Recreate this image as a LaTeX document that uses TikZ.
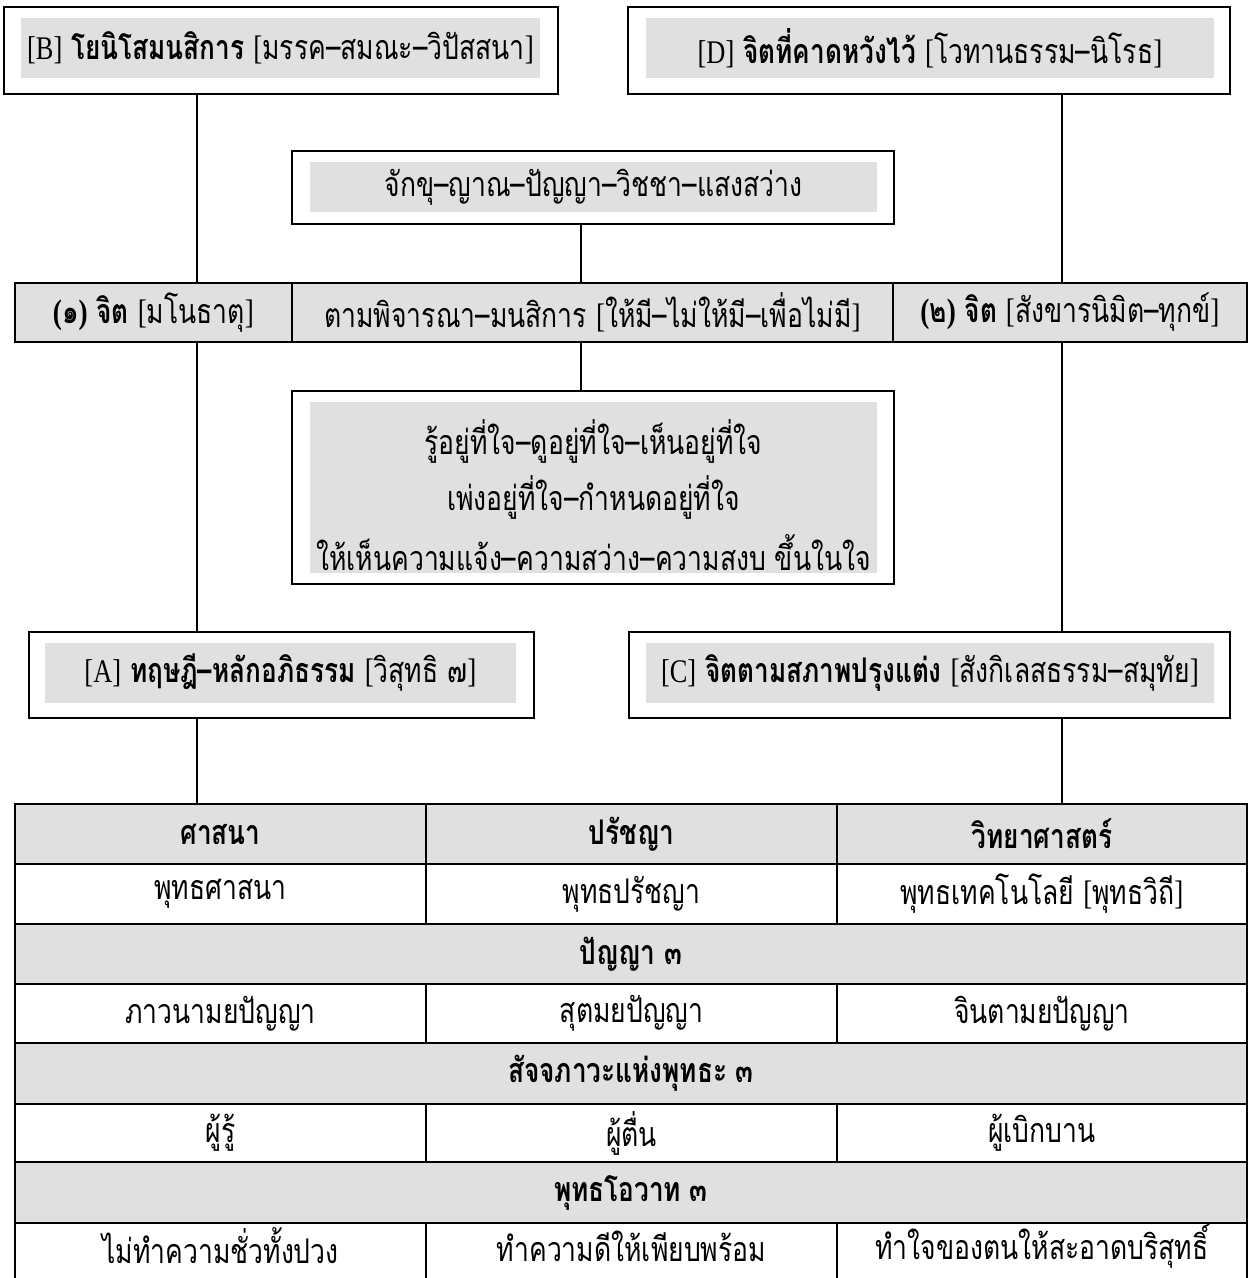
\documentclass[tikz,border=0pt]{standalone}
\usepackage{fontspec}
\setmainfont{Liberation Serif}
\newfontfamily\thaif[Script=Thai,FakeStretch=0.78,BoldFeatures={FakeStretch=0.77}]{Loma}
\newfontfamily\latf[FakeStretch=0.8]{Liberation Serif}
\newcommand\lb{{\latf[}}
\newcommand\rb{{\latf]}}
\newcommand\lp{{\latf(}}
\newcommand\rp{{\latf)}}
\newcommand\lt[1]{{\latf\fontsize{33}{36}\selectfont #1}}
\definecolor{boxgray}{RGB}{224,224,224}
\begin{document}
\begin{tikzpicture}[x=1pt,y=-1pt,
  frame/.style={draw=black,line width=2.4pt,fill=white,inner sep=0pt},
  shade/.style={fill=boxgray,inner sep=0pt,align=center},
  cellg/.style={draw=black,line width=2.4pt,fill=boxgray,inner sep=0pt,align=center},
  cellw/.style={draw=black,line width=2.4pt,fill=white,inner sep=0pt,align=center},
  link/.style={draw=black,line width=1.6pt},
  font=\thaif\fontsize{34}{38}\selectfont]
\clip (0,0) rectangle (1248,1278);
\fill[white] (0,0) rectangle (1248,1278);
\coordinate (xl) at (197,0);
\coordinate (xm) at (581,0);
\coordinate (xr) at (1062,0);

% top boxes
\node[frame,minimum width=554,minimum height=87] (Bo) at (281,50.5) {};
\node[shade,minimum width=519,minimum height=60] (B) at (280.5,48) {\lt{[B]} \textbf{โยนิโสมนสิการ} \lb มรรค–สมณะ–วิปัสสนา\rb};
\node[frame,minimum width=602,minimum height=87] (Do) at (929,50.5) {};
\node[shade,minimum width=568,minimum height=60] (D) at (930,48) {\lt{[D]} \textbf{จิตที่คาดหวังไว้} \lb โวทานธรรม–นิโรธ\rb};

\node[frame,minimum width=602,minimum height=73] (Mo) at (593,187.5) {};
\node[shade,minimum width=567,minimum height=50] (M) at (593.5,187) {จักขุ–ญาณ–ปัญญา–วิชชา–แสงสว่าง};

% row of three cells
\node[cellg,minimum width=277,minimum height=59] (RL) at (153.5,312.5) {\textbf{\lp ๑\rp{} จิต} \lb มโนธาตุ\rb};
\node[cellg,minimum width=601,minimum height=59] (RM) at (592.5,312.5) {ตามพิจารณา–มนสิการ \lb ให้มี–ไม่ให้มี–เพื่อไม่มี\rb};
\node[cellg,minimum width=354,minimum height=59] (RR) at (1070,312.5) {\textbf{\lp ๒\rp{} จิต} \lb สังขารนิมิต–ทุกข์\rb};

% three-line box
\node[frame,minimum width=602,minimum height=193] (Po) at (593,487.5) {};
\node[shade,minimum width=567,minimum height=171] (P) at (593.5,487.5) {};
\node (P1) at (593.5,441) {รู้อยู่ที่ใจ–ดูอยู่ที่ใจ–เห็นอยู่ที่ใจ};
\node (P2) at (593.5,497) {เพ่งอยู่ที่ใจ–กำหนดอยู่ที่ใจ};
\node (P3) at (593.5,553) {ให้เห็นความแจ้ง–ความสว่าง–ความสงบ ขึ้นในใจ};

% A and C
\node[frame,minimum width=505,minimum height=86] (Ao) at (281.5,675) {};
\node[shade,minimum width=471,minimum height=60] (A) at (280.5,673) {\lt{[A]} \textbf{ทฤษฎี–หลักอภิธรรม} \lb วิสุทธิ ๗\rb};
\node[frame,minimum width=601,minimum height=86] (Co) at (929.5,675) {};
\node[shade,minimum width=568,minimum height=60] (C) at (930,673) {\lt{[C]} \textbf{จิตตามสภาพปรุงแต่ง} \lb สังกิเลสธรรม–สมุทัย\rb};

% table
\node[cellg,minimum width=411,minimum height=60] (t11) at (220.5,834) {\textbf{ศาสนา}};
\node[cellg,minimum width=411,minimum height=60] (t12) at (631.5,834) {\textbf{ปรัชญา}};
\node[cellg,minimum width=410,minimum height=60] (t13) at (1042,834) {\textbf{วิทยาศาสตร์}};
\node[cellw,minimum width=411,minimum height=60] (t21) at (220.5,894) {พุทธศาสนา};
\node[cellw,minimum width=411,minimum height=60] (t22) at (631.5,894) {พุทธปรัชญา};
\node[cellw,minimum width=410,minimum height=60] (t23) at (1042,894) {พุทธเทคโนโลยี \lb พุทธวิถี\rb};
\node[cellg,minimum width=1232,minimum height=60] (t3) at (631,954) {\textbf{ปัญญา ๓}};
\node[cellw,minimum width=411,minimum height=59] (t41) at (220.5,1013.5) {ภาวนามยปัญญา};
\node[cellw,minimum width=411,minimum height=59] (t42) at (631.5,1013.5) {สุตมยปัญญา};
\node[cellw,minimum width=410,minimum height=59] (t43) at (1042,1013.5) {จินตามยปัญญา};
\node[cellg,minimum width=1232,minimum height=61] (t5) at (631,1073.5) {\textbf{สัจจภาวะแห่งพุทธะ ๓}};
\node[cellw,minimum width=411,minimum height=58] (t61) at (220.5,1133) {ผู้รู้};
\node[cellw,minimum width=411,minimum height=58] (t62) at (631.5,1133) {ผู้ตื่น};
\node[cellw,minimum width=410,minimum height=58] (t63) at (1042,1133) {ผู้เบิกบาน};
\node[cellg,minimum width=1232,minimum height=61] (t7) at (631,1192.5) {\textbf{พุทธโอวาท ๓}};
\node[cellw,minimum width=411,minimum height=60] (t81) at (220.5,1253) {};
\node[cellw,minimum width=411,minimum height=60] (t82) at (631.5,1253) {};
\node[cellw,minimum width=410,minimum height=60] (t83) at (1042,1253) {};
\node (u81) at (220.5,1246) {ไม่ทำความชั่วทั้งปวง};
\node (u82) at (631.5,1246) {ทำความดีให้เพียบพร้อม};
\node (u83) at (1042,1246) {ทำใจของตนให้สะอาดบริสุทธิ์};

% connectors
\draw[link] (xl |- Bo.south) -- (xl |- RL.north);
\draw[link] (xr |- Do.south) -- (xr |- RR.north);
\draw[link] (xm |- Mo.south) -- (xm |- RM.north);
\draw[link] (xm |- RM.south) -- (xm |- Po.north);
\draw[link] (xl |- RL.south) -- (xl |- Ao.north);
\draw[link] (xr |- RR.south) -- (xr |- Co.north);
\draw[link] (xl |- Ao.south) -- (xl |- t11.north);
\draw[link] (xr |- Co.south) -- (xr |- t13.north);
\end{tikzpicture}
\end{document}
